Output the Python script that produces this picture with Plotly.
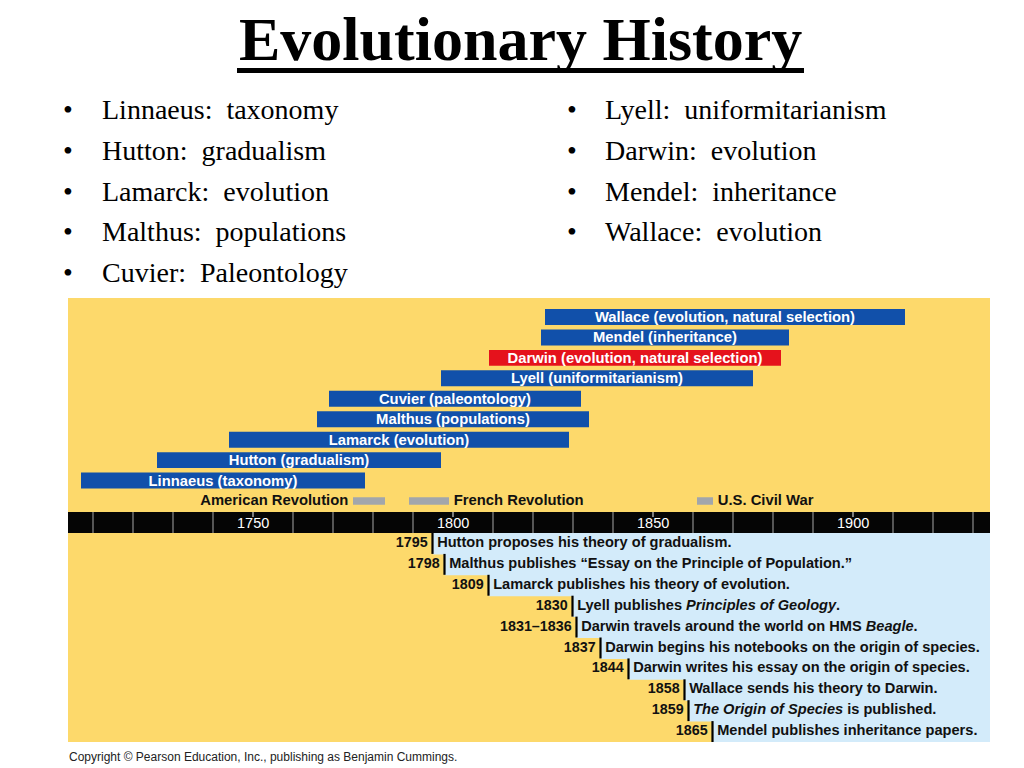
import plotly.graph_objects as go

# slide text
title = "Evolutionary History"
left_bullets = ["Linnaeus:  taxonomy", "Hutton:  gradualism", "Lamarck:  evolution",
                "Malthus:  populations", "Cuvier:  Paleontology"]
right_bullets = ["Lyell:  uniformitarianism", "Darwin:  evolution",
                 "Mendel:  inheritance", "Wallace:  evolution"]
copyright_text = "Copyright © Pearson Education, Inc., publishing as Benjamin Cummings."

# life spans above the time line (bottom row first)
scientists = ["Linnaeus (taxonomy)", "Hutton (gradualism)", "Lamarck (evolution)",
              "Malthus (populations)", "Cuvier (paleontology)", "Lyell (uniformitarianism)",
              "Darwin (evolution, natural selection)", "Mendel (inheritance)",
              "Wallace (evolution, natural selection)"]
sci_start = [1707, 1726, 1744, 1766, 1769, 1797, 1809, 1822, 1823]
sci_end = [1778, 1797, 1829, 1834, 1832, 1875, 1882, 1884, 1913]
highlight = "Darwin (evolution, natural selection)"

# wars
wars = ["American Revolution", "French Revolution", "U.S. Civil War"]
war_start = [1775, 1789, 1861]
war_end = [1783, 1799, 1865]

# events under the time line
event_years = [1795, 1798, 1809, 1830, 1831, 1837, 1844, 1858, 1859, 1865]
event_labels = ["1795", "1798", "1809", "1830", "1831–1836", "1837", "1844",
                "1858", "1859", "1865"]
event_text = ["Hutton proposes his theory of gradualism.",
              "Malthus publishes “Essay on the Principle of Population.”",
              "Lamarck publishes his theory of evolution.",
              "Lyell publishes <i>Principles of Geology</i>.",
              "Darwin travels around the world on HMS <i>Beagle</i>.",
              "Darwin begins his notebooks on the origin of species.",
              "Darwin writes his essay on the origin of species.",
              "Wallace sends his theory to Darwin.",
              "<i>The Origin of Species</i> is published.",
              "Mendel publishes inheritance papers."]

tick_years = [1750, 1800, 1850, 1900]
decades = [y for y in range(1710, 1940, 10) if y not in tick_years]

# colours
YELLOW = "#fdd96b"
BLUE = "#1150aa"
RED = "#e5121c"
LIGHTBLUE = "#d3ebfa"
GREY = "#a2a6ab"
SANS = "Arial, Liberation Sans, sans-serif"
SERIF = "Times New Roman, Liberation Serif, serif"

W, H = 1024, 768
x_range = [1686.75, 1942.75]   # 4 px per year, 1800 at x=453
panel_left, panel_right = 1703.75, 1934.25


def py(y):
    return 1 - y / H


def px(x):
    return x / W


fig = go.Figure()

# life span bars
fig.add_trace(go.Bar(
    y=scientists, base=sci_start, x=[e - s for s, e in zip(sci_start, sci_end)],
    orientation="h", width=0.78,
    marker=dict(color=[RED if s == highlight else BLUE for s in scientists], line_width=0),
    text=scientists, textposition="inside", insidetextanchor="middle", textangle=0,
    constraintext="none",
    textfont=dict(color="white", size=14.8, family=SANS, weight="bold"),
    hoverinfo="skip", yaxis="y"))

# wars
fig.add_trace(go.Bar(
    y=["wars"] * len(wars), base=war_start, x=[e - s for s, e in zip(war_start, war_end)],
    orientation="h", width=0.36, marker=dict(color=GREY, line_width=0),
    hoverinfo="skip", yaxis="y"))
fig.add_trace(go.Scatter(
    y=["wars"] * len(wars), x=[war_start[0], war_end[1], war_end[2]],
    mode="markers+text", text=wars,
    textposition=["middle left", "middle right", "middle right"],
    marker=dict(size=6, opacity=0),
    textfont=dict(color="#111111", size=14.8, family=SANS, weight="bold"),
    hoverinfo="skip", yaxis="y"))

# events: blue staircase, black markers and texts
fig.add_trace(go.Bar(
    y=event_labels, base=event_years, x=[panel_right - y for y in event_years],
    orientation="h", width=1.05, marker=dict(color=LIGHTBLUE, line_width=0),
    hoverinfo="skip", yaxis="y2"))
fig.add_trace(go.Bar(
    y=event_labels, base=[y - 0.4 for y in event_years], x=[0.55] * len(event_years),
    orientation="h", width=1, marker=dict(color="black", line_width=0),
    hoverinfo="skip", yaxis="y2"))
fig.add_trace(go.Scatter(
    y=event_labels, x=event_years, mode="markers+text", text=event_labels,
    textposition="middle left", marker=dict(size=7, opacity=0),
    textfont=dict(color="#111111", size=14.3, family=SANS, weight="bold"),
    hoverinfo="skip", yaxis="y2"))
fig.add_trace(go.Scatter(
    y=event_labels, x=event_years, mode="markers+text", text=event_text,
    textposition="middle right", marker=dict(size=5, opacity=0),
    textfont=dict(color="#111111", size=14.6, family=SANS, weight="bold"),
    hoverinfo="skip", yaxis="y2"))

shapes = []
# yellow panel
shapes.append(dict(type="rect", xref="paper", yref="paper", layer="below",
                   x0=px(68), x1=px(990), y0=py(742), y1=py(298),
                   fillcolor=YELLOW, line_width=0))
# black time band
shapes.append(dict(type="rect", xref="x", yref="paper", layer="above",
                   x0=panel_left, x1=panel_right, y0=py(533), y1=py(512),
                   fillcolor="#050505", line_width=0))
for d in decades:
    shapes.append(dict(type="line", xref="x", yref="paper", layer="above",
                       x0=d, x1=d, y0=py(533), y1=py(512),
                       line=dict(color="#8c8c8c", width=1.2)))
for t in tick_years:
    shapes.append(dict(type="line", xref="x", yref="paper", layer="above",
                       x0=t, x1=t, y0=py(517), y1=py(512),
                       line=dict(color="#cfcfcf", width=1.2)))
# title underline
shapes.append(dict(type="rect", xref="paper", yref="paper",
                   x0=px(237), x1=px(804), y0=py(73), y1=py(68),
                   fillcolor="black", line_width=0))

annotations = []
for t in tick_years:
    annotations.append(dict(xref="x", yref="paper", x=t, y=py(523), text=str(t),
                            showarrow=False, xanchor="center", yanchor="middle",
                            font=dict(color="white", size=14.5, family=SANS)))
annotations.append(dict(xref="paper", yref="paper", x=px(520), y=py(39),
                        text="<b>" + title + "</b>", showarrow=False,
                        xanchor="center", yanchor="middle",
                        font=dict(color="black", size=62, family=SERIF)))
rows = [110, 150.6, 191.2, 231.8, 272.4]
for i, b in enumerate(left_bullets):
    annotations.append(dict(xref="paper", yref="paper", x=px(68), y=py(rows[i]), text="•",
                            showarrow=False, xanchor="center", yanchor="middle",
                            font=dict(color="black", size=28, family=SERIF)))
    annotations.append(dict(xref="paper", yref="paper", x=px(100), y=py(rows[i]),
                            text=b.replace("  ", " \u00a0"), showarrow=False,
                            xanchor="left", yanchor="middle",
                            font=dict(color="black", size=28, family=SERIF)))
for i, b in enumerate(right_bullets):
    annotations.append(dict(xref="paper", yref="paper", x=px(572), y=py(rows[i]), text="•",
                            showarrow=False, xanchor="center", yanchor="middle",
                            font=dict(color="black", size=28, family=SERIF)))
    annotations.append(dict(xref="paper", yref="paper", x=px(603), y=py(rows[i]),
                            text=b.replace("  ", " \u00a0"), showarrow=False,
                            xanchor="left", yanchor="middle",
                            font=dict(color="black", size=28, family=SERIF)))
annotations.append(dict(xref="paper", yref="paper", x=px(67), y=py(757),
                        text=copyright_text, showarrow=False,
                        xanchor="left", yanchor="middle",
                        font=dict(color="#222222", size=12, family=SANS)))

fig.update_layout(
    width=W, height=H, margin=dict(l=0, r=0, t=0, b=0),
    paper_bgcolor="white", plot_bgcolor="rgba(0,0,0,0)",
    showlegend=False, barmode="overlay",
    xaxis=dict(range=x_range, visible=False, fixedrange=True),
    yaxis=dict(domain=[py(511.2), py(306.8)], type="category",
               categoryorder="array", categoryarray=["wars"] + scientists,
               range=[-0.5, len(scientists) + 0.5], visible=False),
    yaxis2=dict(domain=[py(742), py(533)], type="category",
                categoryorder="array", categoryarray=event_labels,
                range=[len(event_labels) - 0.5, -0.5], visible=False),
    shapes=shapes, annotations=annotations,
)

# page has a default body margin; drop it so the figure sits at the window corner
fig.write_html("out.html", config={"displayModeBar": False},
               post_script="document.body.style.margin='0';")
